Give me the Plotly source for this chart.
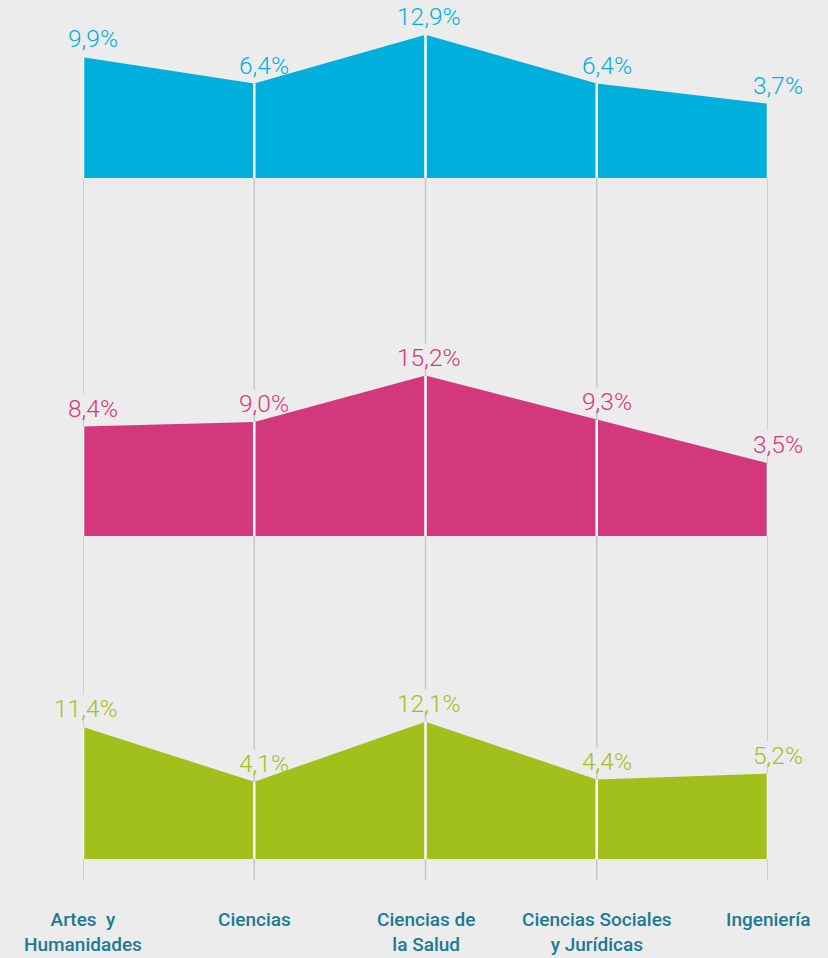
import plotly.graph_objects as go

# categories and the three series (percent values)
categories = ["Artes  y<br>Humanidades", "Ciencias", "Ciencias de<br>la Salud",
              "Ciencias Sociales<br>y Jurídicas", "Ingeniería"]
serie_azul = [9.9, 6.4, 12.9, 6.4, 3.7]
serie_rosa = [8.4, 9.0, 15.2, 9.3, 3.5]
serie_verde = [11.4, 4.1, 12.1, 4.4, 5.2]

W, H = 828, 958
bg = "#ececec"
base = -6.2          # value at the bottom edge of each band
px_per_unit = 7.5

# (values, colour, bottom pixel, top pixel) for each band
bands = [
    (serie_azul, "#00b0dc", 178, 0),
    (serie_rosa, "#d4387c", 536, 250),
    (serie_verde, "#a2c01c", 859, 600),
]

fig = go.Figure()
annotations = []
xs = list(range(len(categories)))

for i, (vals, color, bottom, top) in enumerate(bands, start=1):
    xa = "x" if i == 1 else f"x{i}"
    ya = "y" if i == 1 else f"y{i}"
    # baseline, then area filled down to it
    fig.add_trace(go.Scatter(x=xs, y=[base] * len(xs), mode="lines",
                             line=dict(width=0), hoverinfo="skip",
                             showlegend=False, xaxis=xa, yaxis=ya))
    fig.add_trace(go.Scatter(x=xs, y=vals, mode="lines", fill="tonexty",
                             fillcolor=color, line=dict(width=0, color=color),
                             showlegend=False, xaxis=xa, yaxis=ya))
    # white vertical lines inside the area
    wx, wy = [], []
    for x, v in zip(xs, vals):
        wx += [x, x, None]
        wy += [base, v, None]
    fig.add_trace(go.Scatter(x=wx, y=wy, mode="lines",
                             line=dict(color="white", width=2.5),
                             hoverinfo="skip", showlegend=False,
                             xaxis=xa, yaxis=ya))
    for x, v in zip(xs, vals):
        # small patch that hides the grey guide line behind the label
        annotations.append(dict(
            x=x, y=v, xref=xa, yref=ya, text=" ", showarrow=False,
            yanchor="bottom", yshift=10, width=6, height=21,
            bgcolor=bg, borderpad=0, font=dict(size=4)))
        annotations.append(dict(
            x=x, y=v, xref=xa, yref=ya, text=f"{v:.1f}%".replace(".", ","),
            showarrow=False, yanchor="bottom", xanchor="right",
            yshift=2, xshift=37,
            font=dict(family="Roboto", size=24.5, color=color, weight=300)))

    dom = [1 - bottom / H, 1 - top / H]
    hi = base + (bottom - top) / px_per_unit
    fig.layout[f"xaxis{'' if i == 1 else i}"] = dict(
        range=[0, 4], visible=False, domain=[0, 1],
        anchor=ya)
    fig.layout[f"yaxis{'' if i == 1 else i}"] = dict(
        range=[base, hi], visible=False, domain=dom, anchor=xa)

# grey guide lines behind the areas
shapes = []
for x in xs:
    shapes.append(dict(type="line", xref="x3", yref="paper", x0=x, x1=x,
                       y0=1 - 880 / H, y1=1 - 178 / H, layer="below",
                       line=dict(color="#c6c6c6", width=1.5)))

# category labels under the chart
for x, c in zip(xs, categories):
    annotations.append(dict(
        x=x, y=1 - 906 / H, xref="x3", yref="paper", text=c,
        showarrow=False, yanchor="top", align="center",
        font=dict(family="Roboto", size=19, color="#1d7a94", weight=500)))

fig.update_layout(
    width=W, height=H,
    margin=dict(l=83, r=60, t=0, b=0),
    paper_bgcolor=bg, plot_bgcolor=bg,
    shapes=shapes, annotations=annotations,
    showlegend=False,
)

fig.write_html("out.html", config={"displayModeBar": False},
               post_script="document.body.style.margin='0';")
